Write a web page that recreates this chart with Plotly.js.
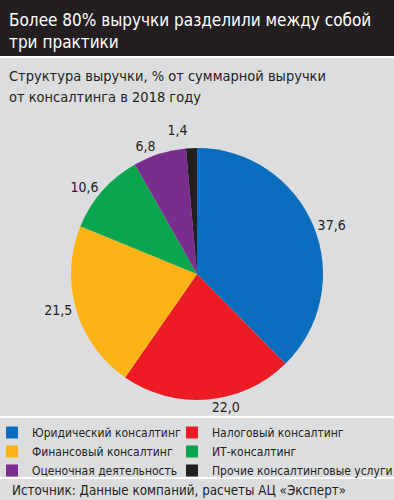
<!DOCTYPE html>
<html>
<head>
<meta charset="utf-8">
<script src="https://cdn.plot.ly/plotly-3.0.1.min.js"></script>
<style>html,body{margin:0;padding:0;background:#dcdddf;}#chart{width:394px;height:500px;} .textline{display:none;} .legend .scrollbox{clip-path:none !important;}</style>
</head>
<body>
<div id="chart"></div>
<script>
var categories = ["Юридический консалтинг", "Налоговый консалтинг", "Финансовый консалтинг", "ИТ-консалтинг", "Оценочная деятельность", "Прочие консалтинговые услуги"];
var shares = [37.6, 22.0, 21.5, 10.6, 6.8, 1.4];
var colors = ["#0a6dbd", "#ed1c24", "#fcb316", "#09a64e", "#7a2d8e", "#231f20"];
var titleLines = ["Более 80% выручки разделили между собой", "три практики"];
var subtitleLines = ["Структура выручки, % от суммарной выручки", "от консалтинга в 2018 году"];
var sourceText = "Источник: Данные компаний, расчеты АЦ «Эксперт»";

var W = 394, H = 500;
function py(px) { return (H - px) / H; }

// pick the narrowest installed family
var canvas = document.createElement("canvas");
var ctx = canvas.getContext("2d");
function measure(text, family, size) { ctx.font = size + "px " + family; return ctx.measureText(text).width; }
function installed(fam) {
  var s = "Абвгд mmmmwwwlli 0123";
  return measure(s, "'" + fam + "', monospace", 40) !== measure(s, "monospace", 40) ||
         measure(s, "'" + fam + "', serif", 40) !== measure(s, "serif", 40);
}
var candidates = ["Liberation Sans Narrow", "DejaVu Sans Condensed", "Roboto Condensed", "Roboto", "Liberation Sans"];
var FONT = "Roboto";
for (var i = 0; i < candidates.length; i++) { if (installed(candidates[i])) { FONT = candidates[i]; break; } }
FONT = "'" + FONT + "', sans-serif";
function fit(text, target, maxSize) {
  var s = target / measure(text, FONT, 100) * 100;
  return Math.min(maxSize, Math.round(s * 10) / 10);
}
var titleSize = fit(titleLines[0], 363, 23);
var subSize = fit(subtitleLines[0], 316, 19);
var legendSize = fit("Прочие консалтинговые услуги", 180, 17);
var sourceSize = fit(sourceText, 333, 17);
var labelSize = fit("37,6", 28, 18);

var trace = {
  type: "pie",
  labels: categories,
  values: shares,
  marker: {colors: colors, line: {width: 0}},
  sort: false,
  direction: "clockwise",
  rotation: 0,
  textposition: "outside",
  texttemplate: "%{value:.1f}",
  outsidetextfont: {family: FONT, size: labelSize, color: "#231f20"},
  hoverinfo: "label+value",
  domain: {x: [71 / W, 323 / W], y: [py(400), py(148)]}
};

function textAnn(text, x, yCenter, size, color) {
  return {text: text, xref: "paper", yref: "paper", x: x / W, y: py(yCenter), xanchor: "left", yanchor: "middle",
          align: "left", showarrow: false, font: {family: FONT, size: size, color: color}};
}

var layout = {
  width: W, height: H,
  margin: {l: 0, r: 0, t: 0, b: 0},
  paper_bgcolor: "#dcdddf",
  plot_bgcolor: "#dcdddf",
  separators: ", ",
  font: {family: FONT, color: "#231f20"},
  showlegend: true,
  legend: {
    orientation: "h",
    x: 0, xanchor: "left",
    y: py(418), yanchor: "top",
    entrywidth: 143, entrywidthmode: "pixels",
    itemwidth: 30,
    indentation: -8,
    tracegroupgap: 0,
    font: {family: FONT, size: legendSize, color: "#231f20"},
    bgcolor: "rgba(0,0,0,0)",
    traceorder: "normal"
  },
  shapes: [
    {type: "rect", xref: "paper", yref: "paper", x0: 0, x1: 1, y0: py(56), y1: 1, fillcolor: "#231f20", line: {width: 0}, layer: "below"},
    {type: "line", xref: "paper", yref: "paper", x0: 0, x1: 1, y0: py(57), y1: py(57), line: {color: "#ffffff", width: 2}},
    {type: "line", xref: "paper", yref: "paper", x0: 0, x1: 1, y0: py(417), y1: py(417), line: {color: "#ffffff", width: 2}},
    {type: "line", xref: "paper", yref: "paper", x0: 0, x1: 1, y0: py(478), y1: py(478), line: {color: "#ffffff", width: 2}}
  ],
  annotations: [
    textAnn(titleLines[0], 7, 20, titleSize, "#ffffff"),
    textAnn(titleLines[1], 7, 42, titleSize, "#ffffff"),
    textAnn(subtitleLines[0], 7, 76, subSize, "#231f20"),
    textAnn(subtitleLines[1], 7, 97, subSize, "#231f20"),
    textAnn(sourceText, 10, 490, sourceSize, "#231f20")
  ]
};

Plotly.newPlot("chart", [trace], layout, {displayModeBar: false, staticPlot: true});
</script>
</body>
</html>
